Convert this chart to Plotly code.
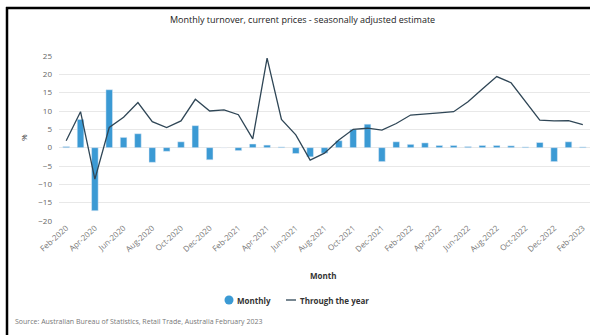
import plotly.graph_objects as go

months = ["Feb-2020","Mar-2020","Apr-2020","May-2020","Jun-2020","Jul-2020","Aug-2020","Sep-2020",
          "Oct-2020","Nov-2020","Dec-2020","Jan-2021","Feb-2021","Mar-2021","Apr-2021","May-2021",
          "Jun-2021","Jul-2021","Aug-2021","Sep-2021","Oct-2021","Nov-2021","Dec-2021","Jan-2022",
          "Feb-2022","Mar-2022","Apr-2022","May-2022","Jun-2022","Jul-2022","Aug-2022","Sep-2022",
          "Oct-2022","Nov-2022","Dec-2022","Jan-2023","Feb-2023"]

monthly = [0.3, 7.7, -17.2, 15.8, 2.8, 3.8, -4.0, -1.0, 1.6, 6.0, -3.3, 0.0, -0.8, 1.0, 0.7, 0.2,
           -1.6, -2.5, -1.5, 1.9, 5.0, 6.4, -3.8, 1.6, 0.9, 1.3, 0.6, 0.6, 0.3, 0.6, 0.6, 0.5,
           0.2, 1.4, -3.8, 1.6, 0.2]

through_year = [1.9, 9.8, -8.6, 5.5, 8.3, 12.3, 7.1, 5.5, 7.3, 13.2, 10.0, 10.3, 9.0, 2.4, 24.4, 7.7,
                3.5, -3.4, -1.5, 2.1, 5.0, 5.3, 4.8, 6.6, 8.9, 9.3, 9.5, 9.8, 12.5, 16.0, 19.4, 17.7,
                12.5, 7.5, 7.3, 7.4, 6.3]

tick_labels = months[::2]
series_names = ["Monthly", "Through the year"]

BLUE = "#3b9ad4"
LINE = "#2f4656"
FONT = "Open Sans"

fig = go.Figure()
fig.add_trace(go.Bar(x=months, y=monthly, name=series_names[0], marker_color=BLUE,
                     width=0.46))
fig.add_trace(go.Scatter(x=months, y=through_year, mode="lines", name=series_names[1],
                         line=dict(color=LINE, width=1.3)))

L, R, T, B = 59, 0, 56, 114
W, H = 590, 335
pw, ph = W - L - R, H - T - B

def px(x):
    return (x - L) / pw

def py(y):
    return (H - B - y) / ph

LEG_Y = 300

fig.update_layout(
    width=W, height=H,
    margin=dict(l=L, r=R, t=T, b=B),
    paper_bgcolor="white", plot_bgcolor="white",
    font=dict(family=FONT, color="#666666", size=8),
    showlegend=False,
    xaxis=dict(type="category", categoryorder="array", categoryarray=months,
               range=[-0.5, 36.5], tickmode="array", tickvals=tick_labels, ticktext=tick_labels,
               tickangle=-42, tickfont=dict(size=8, color="#777777"), showgrid=False,
               showline=False, zeroline=False, ticks=""),
    yaxis=dict(range=[-20, 25], dtick=5, showgrid=True, gridcolor="#e8e8e8", gridwidth=1,
               zeroline=True, zerolinecolor="#e8e8e8", zerolinewidth=1,
               tickfont=dict(size=8, color="#666666"), ticklabelstandoff=6, showline=False),
    annotations=[
        dict(text="Monthly turnover, current prices - seasonally adjusted estimate",
             xref="paper", yref="paper", x=px(302), y=py(20), showarrow=False,
             xanchor="center", yanchor="middle", font=dict(size=9, color="#222222")),
        dict(text="%", xref="paper", yref="paper", x=px(23), y=py(138), showarrow=False,
             textangle=-90, xanchor="center", yanchor="middle",
             font=dict(size=8, color="#333333")),
        dict(text="<b>Month</b>", xref="paper", yref="paper", x=px(323), y=py(275),
             showarrow=False, xanchor="center", yanchor="middle",
             font=dict(size=8, color="#333333")),
        dict(text="<b>" + series_names[0] + "</b>", xref="paper", yref="paper", x=px(235),
             y=py(LEG_Y), showarrow=False, xanchor="left", yanchor="middle",
             font=dict(size=8, color="#333333")),
        dict(text="<b>" + series_names[1] + "</b>", xref="paper", yref="paper", x=px(298),
             y=py(LEG_Y), showarrow=False, xanchor="left", yanchor="middle",
             font=dict(size=8, color="#333333")),
        dict(text="Source: Australian Bureau of Statistics, Retail Trade, Australia February 2023",
             xref="paper", yref="paper", x=px(13), y=py(321), showarrow=False,
             xanchor="left", yanchor="middle", font=dict(size=7, color="#777777")),
    ],
    shapes=[
        dict(type="circle", xref="paper", yref="paper", x0=px(224.5), x1=px(233.5),
             y0=py(LEG_Y - 4.5), y1=py(LEG_Y + 4.5), fillcolor=BLUE, line=dict(width=0)),
        dict(type="line", xref="paper", yref="paper", x0=px(286), x1=px(296),
             y0=py(LEG_Y), y1=py(LEG_Y), line=dict(color=LINE, width=1.3)),
        dict(type="line", xref="paper", yref="paper", x0=px(7), x1=px(7), y0=py(7), y1=py(335),
             line=dict(color="black", width=2.5)),
        dict(type="line", xref="paper", yref="paper", x0=px(6), x1=px(590), y0=py(8), y1=py(8),
             line=dict(color="black", width=2.5)),
    ],
)

fig.write_html("out.html")
